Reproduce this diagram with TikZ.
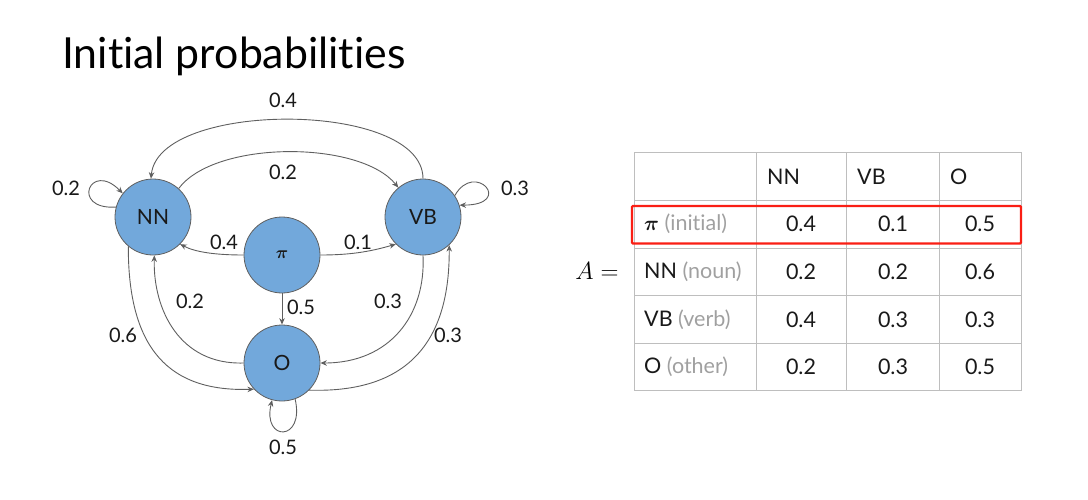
\documentclass[tikz,border=0pt]{standalone}
\usepackage{bm}
\usepackage{fontspec}
\setmainfont{Lato}[Ligatures=NoCommon]
\usetikzlibrary{arrows.meta}
\definecolor{nodeblue}{RGB}{114,168,219}
\definecolor{edgegray}{RGB}{95,95,95}
\definecolor{gridgray}{RGB}{190,190,190}
\definecolor{softgray}{RGB}{160,160,160}
\definecolor{txt}{RGB}{25,25,25}
\definecolor{hlred}{RGB}{250,30,20}
\begin{document}
\begin{tikzpicture}[x=1pt,y=-1pt,
  state/.style={circle,draw=edgegray,line width=0.8pt,fill=nodeblue,minimum size=76pt,inner sep=0pt,font=\fontsize{21}{24}\selectfont,text=txt},
  edge/.style={draw=edgegray,line width=0.9pt,-{Stealth[length=6.5pt,width=5.5pt]}},
  elabel/.style={font=\fontsize{20}{23}\selectfont,text=txt,inner sep=0pt},
  cell/.style={font=\fontsize{21.5}{24}\selectfont,text=txt,inner sep=0pt},
  grid/.style={draw=gridgray,line width=0.9pt},
  muted/.style={text=softgray}
]
\useasboundingbox (0,0) rectangle (1088,499);

% title
\node[anchor=base west,inner sep=0pt,font=\fontsize{42.8}{47}\selectfont,text=black] (title) at (62,68) {Initial probabilities};

% states
\node[state] (NN) at (153,217) {NN};
\node[state] (VB) at (423,217) {VB};
\node[state,font=\fontsize{19}{22}\selectfont] (PInode) at (282,255) {$\bm{\pi}$};
\node[state] (O)  at (282,363) {O};

% edges
\draw[edge] (NN.48) .. controls (215,140) and (360,140) .. (VB.130);
\draw[edge] (VB.90) .. controls (423,100) and (158,100) .. (NN.93);
\draw[edge] (NN.165) .. controls (70,210) and (90,160) .. (NN.142);
\draw[edge] (VB.34) .. controls (475,160) and (515,205) .. (VB.18);
\draw[edge] (PInode.west) .. controls (215,255) and (195,252) .. (NN.-45);
\draw[edge] (PInode.east) .. controls (349,255) and (369,252) .. (VB.-135);
\draw[edge] (PInode.south) -- (O.north);
\draw[edge] (O.west) .. controls (180,365) and (153,310) .. (NN.-88);
\draw[edge] (NN.-130) .. controls (128,350) and (170,392) .. (O.-137);
\draw[edge] (VB.-90) .. controls (426,315) and (390,363) .. (O.east);
\draw[edge] (O.-45) .. controls (400,393) and (450,350) .. (VB.-47);
\draw[edge] (O.-70) .. controls (305,442) and (262,442) .. (O.-105);

% edge labels
\node[elabel] (l1) at (283,100) {0.4};
\node[elabel] (l2) at (283,172) {0.2};
\node[elabel] (l3) at (66,188) {0.2};
\node[elabel] (l4) at (515,188) {0.3};
\node[elabel] (l5) at (224,242) {0.4};
\node[elabel] (l6) at (358,242) {0.1};
\node[elabel] (l7) at (301,307) {0.5};
\node[elabel] (l8) at (190,301) {0.2};
\node[elabel] (l9) at (123,335) {0.6};
\node[elabel] (l10) at (388,301) {0.3};
\node[elabel] (l11) at (448,335) {0.3};
\node[elabel] (l12) at (283,447) {0.5};

% A =
\node[inner sep=0pt,font=\fontsize{31}{34}\selectfont] (Aeq) at (597,271) {$A=$};

% table grid
\draw[grid] (634,152.7) rectangle (1021,390.7);
\foreach \yy in {200,248,295.7,343.3} \draw[grid] (634,\yy) -- (1021,\yy);
\foreach \xx in {756,846.7,939.3} \draw[grid] (\xx,152.7) -- (\xx,390.7);

% header
\node[cell,anchor=west] (hNN) at (767,176.4) {NN};
\node[cell,anchor=west] (hVB) at (857,176.4) {VB};
\node[cell,anchor=west] (hO)  at (950,176.4) {O};

% row labels
\node[cell,anchor=west] (r1) at (644,224.2) {$\bm{\pi}$ \textcolor{softgray}{(initial)}};
\node[cell,anchor=west] (r2) at (644,272) {NN \textcolor{softgray}{(noun)}};
\node[cell,anchor=west] (r3) at (644,319.5) {VB \textcolor{softgray}{(verb)}};
\node[cell,anchor=west] (r4) at (644,367) {O \textcolor{softgray}{(other)}};

% values
\node[cell] (c11) at (801,224.2) {0.4};
\node[cell] (c12) at (893,224.2) {0.1};
\node[cell] (c13) at (980,224.2) {0.5};
\node[cell] (c21) at (801,272) {0.2};
\node[cell] (c22) at (893,272) {0.2};
\node[cell] (c23) at (980,272) {0.6};
\node[cell] (c31) at (801,319.5) {0.4};
\node[cell] (c32) at (893,319.5) {0.3};
\node[cell] (c33) at (980,319.5) {0.3};
\node[cell] (c41) at (801,367) {0.2};
\node[cell] (c42) at (893,367) {0.3};
\node[cell] (c43) at (980,367) {0.5};

% highlight
\draw[hlred,line width=2.2pt,rounded corners=1pt] (632,206) rectangle (1021,243.5);
\end{tikzpicture}
\end{document}
